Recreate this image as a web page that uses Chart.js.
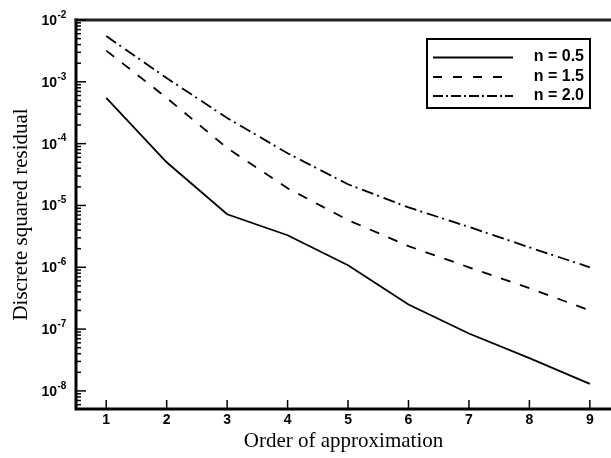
<!DOCTYPE html>
<html>
<head>
<meta charset="utf-8">
<script src="https://cdn.jsdelivr.net/npm/chart.js@4/dist/chart.umd.min.js"></script>
<style>
html,body{margin:0;padding:0;background:#fff;}
canvas{display:block;}
</style>
</head>
<body>
<canvas id="c" width="611" height="458"></canvas>
<script>
// ---- data ----
const orders = [1, 2, 3, 4, 5, 6, 7, 8, 9];
const seriesLabels = ['n = 0.5', 'n = 1.5', 'n = 2.0'];
const residN05 = [5.5e-4, 5.0e-5, 7.2e-6, 3.3e-6, 1.08e-6, 2.5e-7, 8.5e-8, 3.4e-8, 1.3e-8];
const residN15 = [3.2e-3, 5.5e-4, 8.5e-5, 1.9e-5, 5.8e-6, 2.2e-6, 1.0e-6, 4.6e-7, 2.0e-7];
const residN20 = [5.5e-3, 1.15e-3, 2.6e-4, 7.0e-5, 2.2e-5, 9.3e-6, 4.5e-6, 2.1e-6, 1.0e-6];
const yDecades = [-8, -7, -6, -5, -4, -3, -2];
const xTickLabels = [1, 2, 3, 4, 5, 6, 7, 8, 9];

const dashes = [[], [10, 10], [12, 4, 2, 5]];
const legendDashes = [[], [9, 11], [10, 3, 2, 3]];

function pts(arr){ return orders.map((o,i)=>({x:o, y:arr[i]})); }

const axesPlugin = {
  id: 'customAxes',
  afterDraw(chart){
    const {ctx, chartArea:a, scales:{x, y}} = chart;
    ctx.save();
    // frame lines
    ctx.strokeStyle = '#000';
    ctx.lineWidth = 3;
    ctx.lineCap = 'butt';
    ctx.beginPath();
    ctx.moveTo(a.left, a.top - 1.5);
    ctx.lineTo(a.left, a.bottom);
    ctx.lineTo(chart.width, a.bottom);
    ctx.stroke();
    ctx.strokeStyle = '#222';
    ctx.beginPath();
    ctx.moveTo(a.left - 1.5, a.top);
    ctx.lineTo(chart.width, a.top);
    ctx.stroke();
    // y ticks (inward)
    ctx.strokeStyle = '#000';
    ctx.lineWidth = 1.5;
    for (let e = -9; e <= -2; e++) {
      for (let m = 1; m <= 9; m++) {
        const v = m * Math.pow(10, e);
        if (v < y.min * 0.999 || v > y.max * 1.001) continue;
        const py = y.getPixelForValue(v);
        const len = (m === 1) ? 10 : 5;
        ctx.beginPath();
        ctx.moveTo(a.left, py);
        ctx.lineTo(a.left + len, py);
        ctx.stroke();
      }
    }
    // x ticks (inward)
    for (const t of xTickLabels) {
      const px = x.getPixelForValue(t);
      ctx.beginPath();
      ctx.moveTo(px, a.bottom);
      ctx.lineTo(px, a.bottom - 9);
      ctx.stroke();
    }
    // y tick labels 10^e
    ctx.fillStyle = '#000';
    for (const e of yDecades) {
      const py = y.getPixelForValue(Math.pow(10, e));
      ctx.font = 'bold 14px "Liberation Sans", Arial, sans-serif';
      ctx.textAlign = 'right';
      ctx.textBaseline = 'middle';
      ctx.fillText('10', 57, py + 1);
      ctx.font = 'bold 10px "Liberation Sans", Arial, sans-serif';
      ctx.textAlign = 'left';
      ctx.fillText('-' + Math.abs(e), 57.5, py - 5);
    }
    // legend box
    const bx = 427, by = 39, bw = 163, bh = 69;
    ctx.lineWidth = 2;
    ctx.strokeRect(bx, by, bw, bh);
    const rows = [57, 76.5, 95.5];
    chart.data.datasets.forEach((ds, i) => {
      ctx.lineWidth = 2;
      ctx.setLineDash(legendDashes[i]);
      ctx.beginPath();
      ctx.moveTo(433, rows[i] + 0.5);
      ctx.lineTo(513, rows[i] + 0.5);
      ctx.stroke();
      ctx.setLineDash([]);
      ctx.font = 'bold 16px "Liberation Sans", Arial, sans-serif';
      ctx.textAlign = 'right';
      ctx.textBaseline = 'middle';
      ctx.fillText(ds.label, 584, rows[i]);
    });
    ctx.restore();
  }
};

new Chart(document.getElementById('c'), {
  type: 'line',
  data: {
    datasets: [
      {label: seriesLabels[0], data: pts(residN05), borderColor: '#000', borderWidth: 1.8, borderDash: dashes[0], pointRadius: 0, tension: 0, fill: false},
      {label: seriesLabels[1], data: pts(residN15), borderColor: '#000', borderWidth: 1.8, borderDash: dashes[1], pointRadius: 0, tension: 0, fill: false},
      {label: seriesLabels[2], data: pts(residN20), borderColor: '#000', borderWidth: 1.8, borderDash: dashes[2], pointRadius: 0, tension: 0, fill: false}
    ]
  },
  options: {
    responsive: false,
    animation: false,
    devicePixelRatio: 1,
    layout: {padding: {top: 20, right: 0, left: 0, bottom: 0}},
    plugins: {legend: {display: false}, tooltip: {enabled: false}},
    scales: {
      x: {
        type: 'linear',
        min: 0.5, max: 9.35,
        grid: {display: false, drawTicks: false},
        border: {display: false},
        afterFit(s){ s.height = 49; },
        afterBuildTicks(s){ s.ticks = xTickLabels.map(v => ({value: v})); },
        ticks: {
          autoSkip: false,
          padding: 3,
          color: '#000',
          font: {family: '"Liberation Sans", Arial, sans-serif', size: 14, weight: 'bold'},
          callback: v => String(v)
        },
        title: {
          display: true,
          text: 'Order of approximation',
          color: '#000',
          font: {family: '"Liberation Serif", "Times New Roman", serif', size: 21, weight: 'normal'},
          padding: {top: 0, bottom: 4}
        }
      },
      y: {
        type: 'logarithmic',
        min: 5.1e-9, max: 1e-2,
        grid: {display: false, drawTicks: false},
        border: {display: false},
        afterFit(s){ s.width = 76; },
        ticks: {display: false},
        title: {
          display: true,
          text: 'Discrete squared residual',
          color: '#000',
          font: {family: '"Liberation Serif", "Times New Roman", serif', size: 21, weight: 'normal'},
          padding: {top: 9, bottom: 0}
        }
      }
    }
  },
  plugins: [axesPlugin]
});
</script>
</body>
</html>
